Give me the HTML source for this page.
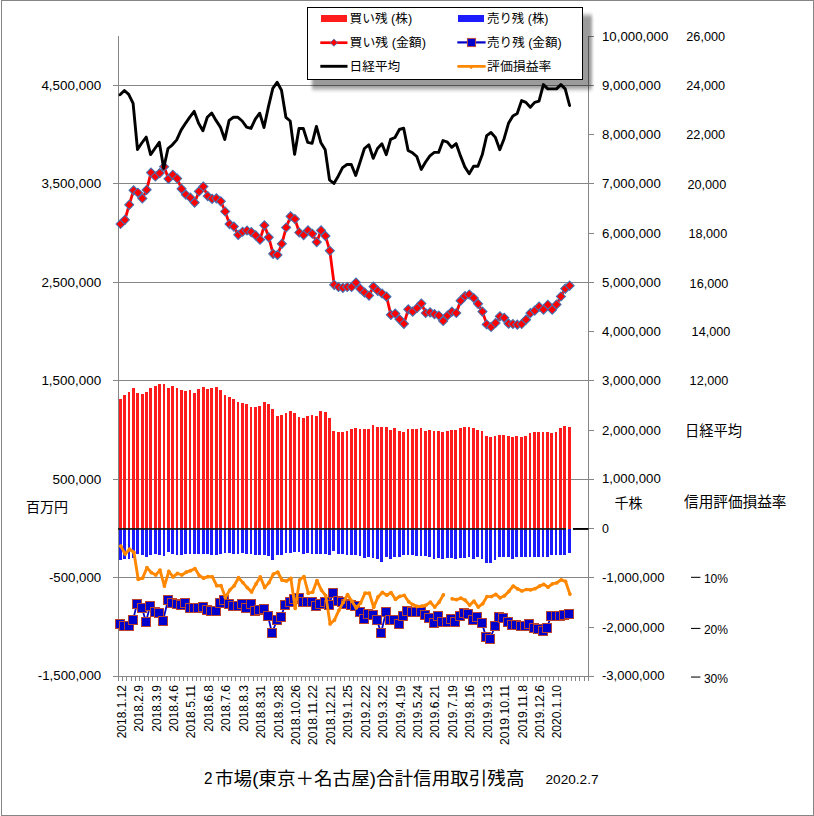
<!DOCTYPE html>
<html><head><meta charset="utf-8"><title>chart</title><style>html,body{margin:0;padding:0;background:#fff}body{width:814px;height:816px;overflow:hidden;position:relative;font-family:"Liberation Sans",sans-serif}</style></head><body>
<svg width="814" height="816" viewBox="0 0 814 816" style="display:block;position:absolute;left:0;top:0" font-family="'Liberation Sans',sans-serif">
<desc>2市場(東京＋名古屋)合計信用取引残高 2020.2.7 — 買い残(株) 売り残(株) 買い残(金額) 売り残(金額) 日経平均 評価損益率 百万円 千株 信用評価損益率</desc>
<defs><filter id="sh" x="-5%" y="-20%" width="110%" height="140%"><feGaussianBlur stdDeviation="1.6 1.9"/></filter></defs>
<rect width="814" height="816" fill="#fff"/>
<rect x="1.5" y="0.5" width="812" height="815" fill="none" stroke="#858585" stroke-width="1" shape-rendering="crispEdges"/>
<g stroke="#868686" stroke-width="1" shape-rendering="crispEdges">
<line x1="113" y1="85.5" x2="594" y2="85.5"/>
<line x1="113" y1="183.5" x2="594" y2="183.5"/>
<line x1="113" y1="282.5" x2="594" y2="282.5"/>
<line x1="113" y1="380.5" x2="594" y2="380.5"/>
<line x1="113" y1="479.5" x2="594" y2="479.5"/>
<line x1="113" y1="577.5" x2="594" y2="577.5"/>
<line x1="113" y1="676.5" x2="594" y2="676.5"/>
<line x1="118.5" y1="36" x2="118.5" y2="677"/>
<line x1="588.5" y1="36" x2="588.5" y2="677"/>
<line x1="588" y1="36.5" x2="594" y2="36.5"/>
<line x1="588" y1="85.5" x2="594" y2="85.5"/>
<line x1="588" y1="134.5" x2="594" y2="134.5"/>
<line x1="588" y1="183.5" x2="594" y2="183.5"/>
<line x1="588" y1="233.5" x2="594" y2="233.5"/>
<line x1="588" y1="282.5" x2="594" y2="282.5"/>
<line x1="588" y1="331.5" x2="594" y2="331.5"/>
<line x1="588" y1="380.5" x2="594" y2="380.5"/>
<line x1="588" y1="430.5" x2="594" y2="430.5"/>
<line x1="588" y1="479.5" x2="594" y2="479.5"/>
<line x1="588" y1="528.5" x2="594" y2="528.5"/>
<line x1="588" y1="577.5" x2="594" y2="577.5"/>
<line x1="588" y1="627.5" x2="594" y2="627.5"/>
<line x1="588" y1="676.5" x2="594" y2="676.5"/>
<line x1="118.5" y1="676" x2="118.5" y2="681"/>
<line x1="122.5" y1="676" x2="122.5" y2="681"/>
<line x1="126.5" y1="676" x2="126.5" y2="681"/>
<line x1="131.5" y1="676" x2="131.5" y2="681"/>
<line x1="135.5" y1="676" x2="135.5" y2="681"/>
<line x1="139.5" y1="676" x2="139.5" y2="681"/>
<line x1="144.5" y1="676" x2="144.5" y2="681"/>
<line x1="148.5" y1="676" x2="148.5" y2="681"/>
<line x1="152.5" y1="676" x2="152.5" y2="681"/>
<line x1="157.5" y1="676" x2="157.5" y2="681"/>
<line x1="161.5" y1="676" x2="161.5" y2="681"/>
<line x1="166.5" y1="676" x2="166.5" y2="681"/>
<line x1="170.5" y1="676" x2="170.5" y2="681"/>
<line x1="174.5" y1="676" x2="174.5" y2="681"/>
<line x1="179.5" y1="676" x2="179.5" y2="681"/>
<line x1="183.5" y1="676" x2="183.5" y2="681"/>
<line x1="187.5" y1="676" x2="187.5" y2="681"/>
<line x1="192.5" y1="676" x2="192.5" y2="681"/>
<line x1="196.5" y1="676" x2="196.5" y2="681"/>
<line x1="200.5" y1="676" x2="200.5" y2="681"/>
<line x1="205.5" y1="676" x2="205.5" y2="681"/>
<line x1="209.5" y1="676" x2="209.5" y2="681"/>
<line x1="213.5" y1="676" x2="213.5" y2="681"/>
<line x1="218.5" y1="676" x2="218.5" y2="681"/>
<line x1="222.5" y1="676" x2="222.5" y2="681"/>
<line x1="227.5" y1="676" x2="227.5" y2="681"/>
<line x1="231.5" y1="676" x2="231.5" y2="681"/>
<line x1="235.5" y1="676" x2="235.5" y2="681"/>
<line x1="240.5" y1="676" x2="240.5" y2="681"/>
<line x1="244.5" y1="676" x2="244.5" y2="681"/>
<line x1="248.5" y1="676" x2="248.5" y2="681"/>
<line x1="253.5" y1="676" x2="253.5" y2="681"/>
<line x1="257.5" y1="676" x2="257.5" y2="681"/>
<line x1="261.5" y1="676" x2="261.5" y2="681"/>
<line x1="266.5" y1="676" x2="266.5" y2="681"/>
<line x1="270.5" y1="676" x2="270.5" y2="681"/>
<line x1="274.5" y1="676" x2="274.5" y2="681"/>
<line x1="279.5" y1="676" x2="279.5" y2="681"/>
<line x1="283.5" y1="676" x2="283.5" y2="681"/>
<line x1="288.5" y1="676" x2="288.5" y2="681"/>
<line x1="292.5" y1="676" x2="292.5" y2="681"/>
<line x1="296.5" y1="676" x2="296.5" y2="681"/>
<line x1="301.5" y1="676" x2="301.5" y2="681"/>
<line x1="305.5" y1="676" x2="305.5" y2="681"/>
<line x1="309.5" y1="676" x2="309.5" y2="681"/>
<line x1="314.5" y1="676" x2="314.5" y2="681"/>
<line x1="318.5" y1="676" x2="318.5" y2="681"/>
<line x1="322.5" y1="676" x2="322.5" y2="681"/>
<line x1="327.5" y1="676" x2="327.5" y2="681"/>
<line x1="331.5" y1="676" x2="331.5" y2="681"/>
<line x1="335.5" y1="676" x2="335.5" y2="681"/>
<line x1="340.5" y1="676" x2="340.5" y2="681"/>
<line x1="344.5" y1="676" x2="344.5" y2="681"/>
<line x1="349.5" y1="676" x2="349.5" y2="681"/>
<line x1="353.5" y1="676" x2="353.5" y2="681"/>
<line x1="357.5" y1="676" x2="357.5" y2="681"/>
<line x1="362.5" y1="676" x2="362.5" y2="681"/>
<line x1="366.5" y1="676" x2="366.5" y2="681"/>
<line x1="370.5" y1="676" x2="370.5" y2="681"/>
<line x1="375.5" y1="676" x2="375.5" y2="681"/>
<line x1="379.5" y1="676" x2="379.5" y2="681"/>
<line x1="383.5" y1="676" x2="383.5" y2="681"/>
<line x1="388.5" y1="676" x2="388.5" y2="681"/>
<line x1="392.5" y1="676" x2="392.5" y2="681"/>
<line x1="396.5" y1="676" x2="396.5" y2="681"/>
<line x1="401.5" y1="676" x2="401.5" y2="681"/>
<line x1="405.5" y1="676" x2="405.5" y2="681"/>
<line x1="410.5" y1="676" x2="410.5" y2="681"/>
<line x1="414.5" y1="676" x2="414.5" y2="681"/>
<line x1="418.5" y1="676" x2="418.5" y2="681"/>
<line x1="423.5" y1="676" x2="423.5" y2="681"/>
<line x1="427.5" y1="676" x2="427.5" y2="681"/>
<line x1="431.5" y1="676" x2="431.5" y2="681"/>
<line x1="436.5" y1="676" x2="436.5" y2="681"/>
<line x1="440.5" y1="676" x2="440.5" y2="681"/>
<line x1="444.5" y1="676" x2="444.5" y2="681"/>
<line x1="449.5" y1="676" x2="449.5" y2="681"/>
<line x1="453.5" y1="676" x2="453.5" y2="681"/>
<line x1="457.5" y1="676" x2="457.5" y2="681"/>
<line x1="462.5" y1="676" x2="462.5" y2="681"/>
<line x1="466.5" y1="676" x2="466.5" y2="681"/>
<line x1="471.5" y1="676" x2="471.5" y2="681"/>
<line x1="475.5" y1="676" x2="475.5" y2="681"/>
<line x1="479.5" y1="676" x2="479.5" y2="681"/>
<line x1="484.5" y1="676" x2="484.5" y2="681"/>
<line x1="488.5" y1="676" x2="488.5" y2="681"/>
<line x1="492.5" y1="676" x2="492.5" y2="681"/>
<line x1="497.5" y1="676" x2="497.5" y2="681"/>
<line x1="501.5" y1="676" x2="501.5" y2="681"/>
<line x1="505.5" y1="676" x2="505.5" y2="681"/>
<line x1="510.5" y1="676" x2="510.5" y2="681"/>
<line x1="514.5" y1="676" x2="514.5" y2="681"/>
<line x1="518.5" y1="676" x2="518.5" y2="681"/>
<line x1="523.5" y1="676" x2="523.5" y2="681"/>
<line x1="527.5" y1="676" x2="527.5" y2="681"/>
<line x1="532.5" y1="676" x2="532.5" y2="681"/>
<line x1="536.5" y1="676" x2="536.5" y2="681"/>
<line x1="540.5" y1="676" x2="540.5" y2="681"/>
<line x1="545.5" y1="676" x2="545.5" y2="681"/>
<line x1="549.5" y1="676" x2="549.5" y2="681"/>
<line x1="553.5" y1="676" x2="553.5" y2="681"/>
<line x1="558.5" y1="676" x2="558.5" y2="681"/>
<line x1="562.5" y1="676" x2="562.5" y2="681"/>
<line x1="566.5" y1="676" x2="566.5" y2="681"/>
<line x1="571.5" y1="676" x2="571.5" y2="681"/>
<line x1="575.5" y1="676" x2="575.5" y2="681"/>
<line x1="579.5" y1="676" x2="579.5" y2="681"/>
<line x1="584.5" y1="676" x2="584.5" y2="681"/>
<line x1="588.5" y1="676" x2="588.5" y2="681"/>
</g>
<g shape-rendering="crispEdges">
<path fill="#ff1c1c" d="M119 399H122V528.5H119ZM123 395H126V528.5H123ZM128 392H130V528.5H128ZM132 388H135V528.5H132ZM136 393H139V528.5H136ZM141 394H144V528.5H141ZM145 392H148V528.5H145ZM149 388H152V528.5H149ZM154 386H157V528.5H154ZM158 384H161V528.5H158ZM163 384H165V528.5H163ZM167 388H170V528.5H167ZM171 386H174V528.5H171ZM176 388H178V528.5H176ZM180 390H183V528.5H180ZM184 391H187V528.5H184ZM189 390H191V528.5H189ZM193 393H196V528.5H193ZM197 389H200V528.5H197ZM202 387H205V528.5H202ZM206 389H209V528.5H206ZM210 388H213V528.5H210ZM215 387H218V528.5H215ZM219 390H222V528.5H219ZM224 395H226V528.5H224ZM228 397H231V528.5H228ZM232 399H235V528.5H232ZM237 402H239V528.5H237ZM241 403H244V528.5H241ZM245 404H248V528.5H245ZM250 407H252V528.5H250ZM254 407H257V528.5H254ZM258 406H261V528.5H258ZM263 402H266V528.5H263ZM267 404H270V528.5H267ZM271 409H274V528.5H271ZM276 416H279V528.5H276ZM280 415H283V528.5H280ZM285 413H287V528.5H285ZM289 411H292V528.5H289ZM293 413H296V528.5H293ZM298 417H300V528.5H298ZM302 418H305V528.5H302ZM306 416H309V528.5H306ZM311 415H313V528.5H311ZM315 416H318V528.5H315ZM319 411H322V528.5H319ZM324 412H327V528.5H324ZM328 418H331V528.5H328ZM332 431H335V528.5H332ZM337 432H340V528.5H337ZM341 432H344V528.5H341ZM346 431H348V528.5H346ZM350 429H353V528.5H350ZM354 428H357V528.5H354ZM359 429H361V528.5H359ZM363 429H366V528.5H363ZM367 429H370V528.5H367ZM372 425H374V528.5H372ZM376 427H379V528.5H376ZM380 427H383V528.5H380ZM385 427H388V528.5H385ZM389 430H392V528.5H389ZM393 428H396V528.5H393ZM398 431H401V528.5H398ZM402 432H405V528.5H402ZM407 429H409V528.5H407ZM411 429H414V528.5H411ZM415 429H418V528.5H415ZM420 428H422V528.5H420ZM424 431H427V528.5H424ZM428 430H431V528.5H428ZM433 431H435V528.5H433ZM437 431H440V528.5H437ZM441 432H444V528.5H441ZM446 431H449V528.5H446ZM450 430H453V528.5H450ZM454 430H457V528.5H454ZM459 428H462V528.5H459ZM463 427H466V528.5H463ZM468 427H470V528.5H468ZM472 428H475V528.5H472ZM476 430H479V528.5H476ZM481 431H483V528.5H481ZM485 436H488V528.5H485ZM489 437H492V528.5H489ZM494 436H496V528.5H494ZM498 435H501V528.5H498ZM502 435H505V528.5H502ZM507 436H510V528.5H507ZM511 437H514V528.5H511ZM515 436H518V528.5H515ZM520 437H523V528.5H520ZM524 436H527V528.5H524ZM529 433H531V528.5H529ZM533 432H536V528.5H533ZM537 432H540V528.5H537ZM542 432H544V528.5H542ZM546 432H549V528.5H546ZM550 433H553V528.5H550ZM555 432H557V528.5H555ZM559 428H562V528.5H559ZM563 426H566V528.5H563ZM568 427H571V528.5H568Z"/>
<path fill="#1c1cff" d="M119 529H122V560H119ZM123 529H126V559H123ZM128 529H130V559H128ZM132 529H135V558H132ZM136 529H139V554H136ZM141 529H144V555H141ZM145 529H148V557H145ZM149 529H152V555H149ZM154 529H157V554H154ZM158 529H161V555H158ZM163 529H165V556H163ZM167 529H170V552H167ZM171 529H174V554H171ZM176 529H178V555H176ZM180 529H183V555H180ZM184 529H187V554H184ZM189 529H191V554H189ZM193 529H196V554H193ZM197 529H200V554H197ZM202 529H205V554H202ZM206 529H209V554H206ZM210 529H213V555H210ZM215 529H218V555H215ZM219 529H222V554H219ZM224 529H226V553H224ZM228 529H231V553H228ZM232 529H235V554H232ZM237 529H239V554H237ZM241 529H244V553H241ZM245 529H248V554H245ZM250 529H252V554H250ZM254 529H257V555H254ZM258 529H261V555H258ZM263 529H266V555H263ZM267 529H270V556H267ZM271 529H274V560H271ZM276 529H279V555H276ZM280 529H283V555H280ZM285 529H287V553H285ZM289 529H292V553H289ZM293 529H296V552H293ZM298 529H300V552H298ZM302 529H305V554H302ZM306 529H309V553H306ZM311 529H313V554H311ZM315 529H318V554H315ZM319 529H322V554H319ZM324 529H327V554H324ZM328 529H331V555H328ZM332 529H335V551H332ZM337 529H340V554H337ZM341 529H344V554H341ZM346 529H348V555H346ZM350 529H353V555H350ZM354 529H357V555H354ZM359 529H361V556H359ZM363 529H366V558H363ZM367 529H370V557H367ZM372 529H374V558H372ZM376 529H379V559H376ZM380 529H383V562H380ZM385 529H388V557H385ZM389 529H392V559H389ZM393 529H396V557H393ZM398 529H401V557H398ZM402 529H405V555H402ZM407 529H409V555H407ZM411 529H414V555H411ZM415 529H418V556H415ZM420 529H422V556H420ZM424 529H427V556H424ZM428 529H431V557H428ZM433 529H435V559H433ZM437 529H440V558H437ZM441 529H444V559H441ZM446 529H449V558H446ZM450 529H453V558H450ZM454 529H457V559H454ZM459 529H462V558H459ZM463 529H466V558H463ZM468 529H470V557H468ZM472 529H475V559H472ZM476 529H479V557H476ZM481 529H483V559H481ZM485 529H488V563H485ZM489 529H492V563H489ZM494 529H496V560H494ZM498 529H501V557H498ZM502 529H505V557H502ZM507 529H510V557H507ZM511 529H514V559H511ZM515 529H518V557H515ZM520 529H523V557H520ZM524 529H527V557H524ZM529 529H531V557H529ZM533 529H536V557H533ZM537 529H540V557H537ZM542 529H544V557H542ZM546 529H549V557H546ZM550 529H553V555H550ZM555 529H557V555H555ZM559 529H562V555H559ZM563 529H566V555H563ZM568 529H571V553H568Z"/>
</g>
<rect x="118" y="528.1" width="448" height="1.7" fill="#141a14"/>
<rect x="573" y="528" width="15.5" height="1.9" fill="#000"/>
<polyline points="120.5,224.0 124.9,219.8 129.2,204.8 133.6,190.3 137.9,192.7 142.3,198.4 146.7,189.8 151.0,172.6 155.4,176.5 159.7,173.1 164.1,166.7 168.5,178.8 172.8,174.8 177.2,178.5 181.5,188.8 185.9,194.7 190.3,197.6 194.6,202.6 199.0,191.4 203.3,186.5 207.7,196.1 212.1,198.8 216.4,198.3 220.8,201.3 225.2,211.5 229.5,224.1 233.9,226.6 238.2,234.8 242.6,231.7 247.0,230.5 251.3,232.1 255.7,235.4 260.0,239.7 264.4,225.3 268.8,237.3 273.1,253.8 277.5,254.9 281.8,243.8 286.2,227.5 290.6,216.3 294.9,219.0 299.3,232.5 303.6,235.1 308.0,230.4 312.4,233.7 316.7,242.1 321.1,230.4 325.4,235.9 329.8,250.7 334.2,284.8 338.5,286.9 342.9,287.8 347.2,286.9 351.6,286.9 356.0,282.6 360.3,288.8 364.7,292.7 369.0,295.6 373.4,286.6 377.8,290.8 382.1,293.5 386.5,296.7 390.9,314.8 395.2,313.6 399.6,319.3 403.9,323.8 408.3,309.3 412.7,311.7 417.0,308.0 421.4,303.4 425.7,313.0 430.1,312.3 434.5,314.2 438.8,315.4 443.2,320.9 447.5,315.4 451.9,311.7 456.3,313.0 460.6,300.7 465.0,296.1 469.3,294.5 473.7,297.9 478.1,303.8 482.4,311.6 486.8,324.4 491.1,326.9 495.5,323.0 499.9,316.3 504.2,317.8 508.6,323.7 512.9,324.0 517.3,324.7 521.7,324.0 526.0,319.7 530.4,313.1 534.7,310.7 539.1,306.7 543.5,309.7 547.8,304.8 552.2,309.7 556.5,304.5 560.9,296.4 565.3,288.7 569.6,285.7" fill="none" stroke="#ff0000" stroke-width="2.8" stroke-linejoin="round"/>
<g fill="#ff0000" stroke="#4272b4" stroke-width="1.05" stroke-linejoin="miter"><path d="M116.0 224.0L120.5 219.4L125.0 224.0L120.5 228.6Z"/><path d="M120.3 219.8L124.9 215.2L129.4 219.8L124.9 224.4Z"/><path d="M124.7 204.8L129.2 200.2L133.8 204.8L129.2 209.4Z"/><path d="M129.0 190.3L133.6 185.8L138.1 190.3L133.6 194.9Z"/><path d="M133.4 192.7L137.9 188.2L142.5 192.7L137.9 197.3Z"/><path d="M137.8 198.4L142.3 193.8L146.9 198.4L142.3 203.0Z"/><path d="M142.1 189.8L146.7 185.2L151.2 189.8L146.7 194.4Z"/><path d="M146.5 172.6L151.0 168.1L155.6 172.6L151.0 177.2Z"/><path d="M150.8 176.5L155.4 171.9L159.9 176.5L155.4 181.1Z"/><path d="M155.2 173.1L159.7 168.6L164.3 173.1L159.7 177.7Z"/><path d="M159.6 166.7L164.1 162.2L168.7 166.7L164.1 171.3Z"/><path d="M163.9 178.8L168.5 174.2L173.0 178.8L168.5 183.4Z"/><path d="M168.3 174.8L172.8 170.2L177.4 174.8L172.8 179.4Z"/><path d="M172.6 178.5L177.2 173.9L181.7 178.5L177.2 183.1Z"/><path d="M177.0 188.8L181.5 184.2L186.1 188.8L181.5 193.4Z"/><path d="M181.4 194.7L185.9 190.2L190.5 194.7L185.9 199.3Z"/><path d="M185.7 197.6L190.3 193.1L194.8 197.6L190.3 202.2Z"/><path d="M190.1 202.6L194.6 198.1L199.2 202.6L194.6 207.2Z"/><path d="M194.4 191.4L199.0 186.8L203.5 191.4L199.0 196.0Z"/><path d="M198.8 186.5L203.3 181.9L207.9 186.5L203.3 191.1Z"/><path d="M203.2 196.1L207.7 191.6L212.3 196.1L207.7 200.7Z"/><path d="M207.5 198.8L212.1 194.2L216.6 198.8L212.1 203.4Z"/><path d="M211.9 198.3L216.4 193.8L221.0 198.3L216.4 202.9Z"/><path d="M216.2 201.3L220.8 196.8L225.3 201.3L220.8 205.9Z"/><path d="M220.6 211.5L225.2 206.9L229.7 211.5L225.2 216.1Z"/><path d="M225.0 224.1L229.5 219.6L234.1 224.1L229.5 228.7Z"/><path d="M229.3 226.6L233.9 222.1L238.4 226.6L233.9 231.2Z"/><path d="M233.7 234.8L238.2 230.2L242.8 234.8L238.2 239.4Z"/><path d="M238.0 231.7L242.6 227.2L247.1 231.7L242.6 236.3Z"/><path d="M242.4 230.5L247.0 225.9L251.5 230.5L247.0 235.1Z"/><path d="M246.8 232.1L251.3 227.6L255.9 232.1L251.3 236.7Z"/><path d="M251.1 235.4L255.7 230.8L260.2 235.4L255.7 240.0Z"/><path d="M255.5 239.7L260.0 235.2L264.6 239.7L260.0 244.3Z"/><path d="M259.8 225.3L264.4 220.8L268.9 225.3L264.4 229.9Z"/><path d="M264.2 237.3L268.8 232.8L273.3 237.3L268.8 241.9Z"/><path d="M268.6 253.8L273.1 249.2L277.7 253.8L273.1 258.4Z"/><path d="M272.9 254.9L277.5 250.3L282.0 254.9L277.5 259.4Z"/><path d="M277.3 243.8L281.8 239.2L286.4 243.8L281.8 248.4Z"/><path d="M281.6 227.5L286.2 222.9L290.7 227.5L286.2 232.1Z"/><path d="M286.0 216.3L290.6 211.8L295.1 216.3L290.6 220.9Z"/><path d="M290.4 219.0L294.9 214.4L299.5 219.0L294.9 223.6Z"/><path d="M294.7 232.5L299.3 227.9L303.8 232.5L299.3 237.1Z"/><path d="M299.1 235.1L303.6 230.6L308.2 235.1L303.6 239.7Z"/><path d="M303.5 230.4L308.0 225.8L312.6 230.4L308.0 235.0Z"/><path d="M307.8 233.7L312.4 229.2L316.9 233.7L312.4 238.3Z"/><path d="M312.2 242.1L316.7 237.6L321.3 242.1L316.7 246.7Z"/><path d="M316.5 230.4L321.1 225.8L325.6 230.4L321.1 235.0Z"/><path d="M320.9 235.9L325.4 231.3L330.0 235.9L325.4 240.5Z"/><path d="M325.3 250.7L329.8 246.2L334.4 250.7L329.8 255.3Z"/><path d="M329.6 284.8L334.2 280.2L338.7 284.8L334.2 289.4Z"/><path d="M334.0 286.9L338.5 282.4L343.1 286.9L338.5 291.5Z"/><path d="M338.3 287.8L342.9 283.2L347.4 287.8L342.9 292.4Z"/><path d="M342.7 286.9L347.2 282.4L351.8 286.9L347.2 291.5Z"/><path d="M347.1 286.9L351.6 282.4L356.2 286.9L351.6 291.5Z"/><path d="M351.4 282.6L356.0 278.1L360.5 282.6L356.0 287.2Z"/><path d="M355.8 288.8L360.3 284.2L364.9 288.8L360.3 293.4Z"/><path d="M360.1 292.7L364.7 288.1L369.2 292.7L364.7 297.2Z"/><path d="M364.5 295.6L369.0 291.1L373.6 295.6L369.0 300.2Z"/><path d="M368.9 286.6L373.4 282.1L378.0 286.6L373.4 291.2Z"/><path d="M373.2 290.8L377.8 286.2L382.3 290.8L377.8 295.4Z"/><path d="M377.6 293.5L382.1 288.9L386.7 293.5L382.1 298.1Z"/><path d="M381.9 296.7L386.5 292.1L391.0 296.7L386.5 301.2Z"/><path d="M386.3 314.8L390.9 310.2L395.4 314.8L390.9 319.4Z"/><path d="M390.7 313.6L395.2 309.1L399.8 313.6L395.2 318.2Z"/><path d="M395.0 319.3L399.6 314.8L404.1 319.3L399.6 323.9Z"/><path d="M399.4 323.8L403.9 319.2L408.5 323.8L403.9 328.4Z"/><path d="M403.7 309.3L408.3 304.8L412.8 309.3L408.3 313.9Z"/><path d="M408.1 311.7L412.7 307.1L417.2 311.7L412.7 316.2Z"/><path d="M412.5 308.0L417.0 303.4L421.6 308.0L417.0 312.6Z"/><path d="M416.8 303.4L421.4 298.9L425.9 303.4L421.4 308.0Z"/><path d="M421.2 313.0L425.7 308.4L430.3 313.0L425.7 317.6Z"/><path d="M425.5 312.3L430.1 307.8L434.6 312.3L430.1 316.9Z"/><path d="M429.9 314.2L434.5 309.6L439.0 314.2L434.5 318.8Z"/><path d="M434.3 315.4L438.8 310.9L443.4 315.4L438.8 320.0Z"/><path d="M438.6 320.9L443.2 316.4L447.7 320.9L443.2 325.5Z"/><path d="M443.0 315.4L447.5 310.9L452.1 315.4L447.5 320.0Z"/><path d="M447.3 311.7L451.9 307.1L456.4 311.7L451.9 316.2Z"/><path d="M451.7 313.0L456.3 308.4L460.8 313.0L456.3 317.6Z"/><path d="M456.1 300.7L460.6 296.1L465.2 300.7L460.6 305.2Z"/><path d="M460.4 296.1L465.0 291.6L469.5 296.1L465.0 300.7Z"/><path d="M464.8 294.5L469.3 289.9L473.9 294.5L469.3 299.1Z"/><path d="M469.2 297.9L473.7 293.4L478.3 297.9L473.7 302.5Z"/><path d="M473.5 303.8L478.1 299.2L482.6 303.8L478.1 308.4Z"/><path d="M477.9 311.6L482.4 307.1L487.0 311.6L482.4 316.2Z"/><path d="M482.2 324.4L486.8 319.9L491.3 324.4L486.8 329.0Z"/><path d="M486.6 326.9L491.1 322.4L495.7 326.9L491.1 331.5Z"/><path d="M491.0 323.0L495.5 318.4L500.1 323.0L495.5 327.6Z"/><path d="M495.3 316.3L499.9 311.8L504.4 316.3L499.9 320.9Z"/><path d="M499.7 317.8L504.2 313.2L508.8 317.8L504.2 322.4Z"/><path d="M504.0 323.7L508.6 319.1L513.1 323.7L508.6 328.2Z"/><path d="M508.4 324.0L512.9 319.4L517.5 324.0L512.9 328.6Z"/><path d="M512.8 324.7L517.3 320.1L521.9 324.7L517.3 329.2Z"/><path d="M517.1 324.0L521.7 319.4L526.2 324.0L521.7 328.6Z"/><path d="M521.5 319.7L526.0 315.1L530.6 319.7L526.0 324.2Z"/><path d="M525.8 313.1L530.4 308.6L534.9 313.1L530.4 317.7Z"/><path d="M530.2 310.7L534.7 306.1L539.3 310.7L534.7 315.2Z"/><path d="M534.6 306.7L539.1 302.1L543.7 306.7L539.1 311.2Z"/><path d="M538.9 309.7L543.5 305.1L548.0 309.7L543.5 314.2Z"/><path d="M543.3 304.8L547.8 300.2L552.4 304.8L547.8 309.4Z"/><path d="M547.6 309.7L552.2 305.1L556.7 309.7L552.2 314.2Z"/><path d="M552.0 304.5L556.5 299.9L561.1 304.5L556.5 309.1Z"/><path d="M556.4 296.4L560.9 291.9L565.5 296.4L560.9 301.0Z"/><path d="M560.7 288.7L565.3 284.1L569.8 288.7L565.3 293.2Z"/><path d="M565.1 285.7L569.6 281.1L574.2 285.7L569.6 290.2Z"/></g>
<polyline points="120,624 124,626 129,626 133,620 137,604 142,608 146,622 150,606 155,612 159,613 163,621 168,600 172,603 177,604 181,605 185,603 190,608 194,608 198,608 203,607 207,610 211,611 216,611 220,603 224,600 229,604 233,606 238,606 242,604 246,608 251,604 255,611 259,610 264,609 268,616 272,633 277,620 281,617 285,605 290,602 294,599 299,598 303,602 307,602 312,602 316,606 320,604 325,602 329,605 333,593 338,601 342,602 346,604 351,605 355,606 360,612 364,619 368,614 373,615 377,620 381,633 386,612 390,620 394,620 399,624 403,616 407,611 412,612 416,612 421,612 425,615 429,618 434,623 438,616 442,622 447,622 451,619 455,622 460,616 464,613 468,614 473,620 477,617 482,623 486,637 490,639 495,626 499,617 503,618 508,622 512,625 516,625 521,626 525,626 529,624 534,628 538,629 543,631 547,628 551,616 556,616 560,616 564,615 569,614" fill="none" stroke="#0000c8" stroke-width="1.8"/>
<rect x="115.5" y="619.5" width="9" height="9" fill="#0000cd" stroke="#b8442f" stroke-width="1"/>
<rect x="119.5" y="621.5" width="9" height="9" fill="#0000cd" stroke="#b8442f" stroke-width="1"/>
<rect x="124.5" y="621.5" width="9" height="9" fill="#0000cd" stroke="#b8442f" stroke-width="1"/>
<rect x="128.5" y="615.5" width="9" height="9" fill="#0000cd" stroke="#b8442f" stroke-width="1"/>
<rect x="132.5" y="599.5" width="9" height="9" fill="#0000cd" stroke="#b8442f" stroke-width="1"/>
<rect x="137.5" y="603.5" width="9" height="9" fill="#0000cd" stroke="#b8442f" stroke-width="1"/>
<rect x="141.5" y="617.5" width="9" height="9" fill="#0000cd" stroke="#b8442f" stroke-width="1"/>
<rect x="145.5" y="601.5" width="9" height="9" fill="#0000cd" stroke="#b8442f" stroke-width="1"/>
<rect x="150.5" y="607.5" width="9" height="9" fill="#0000cd" stroke="#b8442f" stroke-width="1"/>
<rect x="154.5" y="608.5" width="9" height="9" fill="#0000cd" stroke="#b8442f" stroke-width="1"/>
<rect x="158.5" y="616.5" width="9" height="9" fill="#0000cd" stroke="#b8442f" stroke-width="1"/>
<rect x="163.5" y="595.5" width="9" height="9" fill="#0000cd" stroke="#b8442f" stroke-width="1"/>
<rect x="167.5" y="598.5" width="9" height="9" fill="#0000cd" stroke="#b8442f" stroke-width="1"/>
<rect x="172.5" y="599.5" width="9" height="9" fill="#0000cd" stroke="#b8442f" stroke-width="1"/>
<rect x="176.5" y="600.5" width="9" height="9" fill="#0000cd" stroke="#b8442f" stroke-width="1"/>
<rect x="180.5" y="598.5" width="9" height="9" fill="#0000cd" stroke="#b8442f" stroke-width="1"/>
<rect x="185.5" y="603.5" width="9" height="9" fill="#0000cd" stroke="#b8442f" stroke-width="1"/>
<rect x="189.5" y="603.5" width="9" height="9" fill="#0000cd" stroke="#b8442f" stroke-width="1"/>
<rect x="193.5" y="603.5" width="9" height="9" fill="#0000cd" stroke="#b8442f" stroke-width="1"/>
<rect x="198.5" y="602.5" width="9" height="9" fill="#0000cd" stroke="#b8442f" stroke-width="1"/>
<rect x="202.5" y="605.5" width="9" height="9" fill="#0000cd" stroke="#b8442f" stroke-width="1"/>
<rect x="206.5" y="606.5" width="9" height="9" fill="#0000cd" stroke="#b8442f" stroke-width="1"/>
<rect x="211.5" y="606.5" width="9" height="9" fill="#0000cd" stroke="#b8442f" stroke-width="1"/>
<rect x="215.5" y="598.5" width="9" height="9" fill="#0000cd" stroke="#b8442f" stroke-width="1"/>
<rect x="219.5" y="595.5" width="9" height="9" fill="#0000cd" stroke="#b8442f" stroke-width="1"/>
<rect x="224.5" y="599.5" width="9" height="9" fill="#0000cd" stroke="#b8442f" stroke-width="1"/>
<rect x="228.5" y="601.5" width="9" height="9" fill="#0000cd" stroke="#b8442f" stroke-width="1"/>
<rect x="233.5" y="601.5" width="9" height="9" fill="#0000cd" stroke="#b8442f" stroke-width="1"/>
<rect x="237.5" y="599.5" width="9" height="9" fill="#0000cd" stroke="#b8442f" stroke-width="1"/>
<rect x="241.5" y="603.5" width="9" height="9" fill="#0000cd" stroke="#b8442f" stroke-width="1"/>
<rect x="246.5" y="599.5" width="9" height="9" fill="#0000cd" stroke="#b8442f" stroke-width="1"/>
<rect x="250.5" y="606.5" width="9" height="9" fill="#0000cd" stroke="#b8442f" stroke-width="1"/>
<rect x="254.5" y="605.5" width="9" height="9" fill="#0000cd" stroke="#b8442f" stroke-width="1"/>
<rect x="259.5" y="604.5" width="9" height="9" fill="#0000cd" stroke="#b8442f" stroke-width="1"/>
<rect x="263.5" y="611.5" width="9" height="9" fill="#0000cd" stroke="#b8442f" stroke-width="1"/>
<rect x="267.5" y="628.5" width="9" height="9" fill="#0000cd" stroke="#b8442f" stroke-width="1"/>
<rect x="272.5" y="615.5" width="9" height="9" fill="#0000cd" stroke="#b8442f" stroke-width="1"/>
<rect x="276.5" y="612.5" width="9" height="9" fill="#0000cd" stroke="#b8442f" stroke-width="1"/>
<rect x="280.5" y="600.5" width="9" height="9" fill="#0000cd" stroke="#b8442f" stroke-width="1"/>
<rect x="285.5" y="597.5" width="9" height="9" fill="#0000cd" stroke="#b8442f" stroke-width="1"/>
<rect x="289.5" y="594.5" width="9" height="9" fill="#0000cd" stroke="#b8442f" stroke-width="1"/>
<rect x="294.5" y="593.5" width="9" height="9" fill="#0000cd" stroke="#b8442f" stroke-width="1"/>
<rect x="298.5" y="597.5" width="9" height="9" fill="#0000cd" stroke="#b8442f" stroke-width="1"/>
<rect x="302.5" y="597.5" width="9" height="9" fill="#0000cd" stroke="#b8442f" stroke-width="1"/>
<rect x="307.5" y="597.5" width="9" height="9" fill="#0000cd" stroke="#b8442f" stroke-width="1"/>
<rect x="311.5" y="601.5" width="9" height="9" fill="#0000cd" stroke="#b8442f" stroke-width="1"/>
<rect x="315.5" y="599.5" width="9" height="9" fill="#0000cd" stroke="#b8442f" stroke-width="1"/>
<rect x="320.5" y="597.5" width="9" height="9" fill="#0000cd" stroke="#b8442f" stroke-width="1"/>
<rect x="324.5" y="600.5" width="9" height="9" fill="#0000cd" stroke="#b8442f" stroke-width="1"/>
<rect x="328.5" y="588.5" width="9" height="9" fill="#0000cd" stroke="#b8442f" stroke-width="1"/>
<rect x="333.5" y="596.5" width="9" height="9" fill="#0000cd" stroke="#b8442f" stroke-width="1"/>
<rect x="337.5" y="597.5" width="9" height="9" fill="#0000cd" stroke="#b8442f" stroke-width="1"/>
<rect x="341.5" y="599.5" width="9" height="9" fill="#0000cd" stroke="#b8442f" stroke-width="1"/>
<rect x="346.5" y="600.5" width="9" height="9" fill="#0000cd" stroke="#b8442f" stroke-width="1"/>
<rect x="350.5" y="601.5" width="9" height="9" fill="#0000cd" stroke="#b8442f" stroke-width="1"/>
<rect x="355.5" y="607.5" width="9" height="9" fill="#0000cd" stroke="#b8442f" stroke-width="1"/>
<rect x="359.5" y="614.5" width="9" height="9" fill="#0000cd" stroke="#b8442f" stroke-width="1"/>
<rect x="363.5" y="609.5" width="9" height="9" fill="#0000cd" stroke="#b8442f" stroke-width="1"/>
<rect x="368.5" y="610.5" width="9" height="9" fill="#0000cd" stroke="#b8442f" stroke-width="1"/>
<rect x="372.5" y="615.5" width="9" height="9" fill="#0000cd" stroke="#b8442f" stroke-width="1"/>
<rect x="376.5" y="628.5" width="9" height="9" fill="#0000cd" stroke="#b8442f" stroke-width="1"/>
<rect x="381.5" y="607.5" width="9" height="9" fill="#0000cd" stroke="#b8442f" stroke-width="1"/>
<rect x="385.5" y="615.5" width="9" height="9" fill="#0000cd" stroke="#b8442f" stroke-width="1"/>
<rect x="389.5" y="615.5" width="9" height="9" fill="#0000cd" stroke="#b8442f" stroke-width="1"/>
<rect x="394.5" y="619.5" width="9" height="9" fill="#0000cd" stroke="#b8442f" stroke-width="1"/>
<rect x="398.5" y="611.5" width="9" height="9" fill="#0000cd" stroke="#b8442f" stroke-width="1"/>
<rect x="402.5" y="606.5" width="9" height="9" fill="#0000cd" stroke="#b8442f" stroke-width="1"/>
<rect x="407.5" y="607.5" width="9" height="9" fill="#0000cd" stroke="#b8442f" stroke-width="1"/>
<rect x="411.5" y="607.5" width="9" height="9" fill="#0000cd" stroke="#b8442f" stroke-width="1"/>
<rect x="416.5" y="607.5" width="9" height="9" fill="#0000cd" stroke="#b8442f" stroke-width="1"/>
<rect x="420.5" y="610.5" width="9" height="9" fill="#0000cd" stroke="#b8442f" stroke-width="1"/>
<rect x="424.5" y="613.5" width="9" height="9" fill="#0000cd" stroke="#b8442f" stroke-width="1"/>
<rect x="429.5" y="618.5" width="9" height="9" fill="#0000cd" stroke="#b8442f" stroke-width="1"/>
<rect x="433.5" y="611.5" width="9" height="9" fill="#0000cd" stroke="#b8442f" stroke-width="1"/>
<rect x="437.5" y="617.5" width="9" height="9" fill="#0000cd" stroke="#b8442f" stroke-width="1"/>
<rect x="442.5" y="617.5" width="9" height="9" fill="#0000cd" stroke="#b8442f" stroke-width="1"/>
<rect x="446.5" y="614.5" width="9" height="9" fill="#0000cd" stroke="#b8442f" stroke-width="1"/>
<rect x="450.5" y="617.5" width="9" height="9" fill="#0000cd" stroke="#b8442f" stroke-width="1"/>
<rect x="455.5" y="611.5" width="9" height="9" fill="#0000cd" stroke="#b8442f" stroke-width="1"/>
<rect x="459.5" y="608.5" width="9" height="9" fill="#0000cd" stroke="#b8442f" stroke-width="1"/>
<rect x="463.5" y="609.5" width="9" height="9" fill="#0000cd" stroke="#b8442f" stroke-width="1"/>
<rect x="468.5" y="615.5" width="9" height="9" fill="#0000cd" stroke="#b8442f" stroke-width="1"/>
<rect x="472.5" y="612.5" width="9" height="9" fill="#0000cd" stroke="#b8442f" stroke-width="1"/>
<rect x="477.5" y="618.5" width="9" height="9" fill="#0000cd" stroke="#b8442f" stroke-width="1"/>
<rect x="481.5" y="632.5" width="9" height="9" fill="#0000cd" stroke="#b8442f" stroke-width="1"/>
<rect x="485.5" y="634.5" width="9" height="9" fill="#0000cd" stroke="#b8442f" stroke-width="1"/>
<rect x="490.5" y="621.5" width="9" height="9" fill="#0000cd" stroke="#b8442f" stroke-width="1"/>
<rect x="494.5" y="612.5" width="9" height="9" fill="#0000cd" stroke="#b8442f" stroke-width="1"/>
<rect x="498.5" y="613.5" width="9" height="9" fill="#0000cd" stroke="#b8442f" stroke-width="1"/>
<rect x="503.5" y="617.5" width="9" height="9" fill="#0000cd" stroke="#b8442f" stroke-width="1"/>
<rect x="507.5" y="620.5" width="9" height="9" fill="#0000cd" stroke="#b8442f" stroke-width="1"/>
<rect x="511.5" y="620.5" width="9" height="9" fill="#0000cd" stroke="#b8442f" stroke-width="1"/>
<rect x="516.5" y="621.5" width="9" height="9" fill="#0000cd" stroke="#b8442f" stroke-width="1"/>
<rect x="520.5" y="621.5" width="9" height="9" fill="#0000cd" stroke="#b8442f" stroke-width="1"/>
<rect x="524.5" y="619.5" width="9" height="9" fill="#0000cd" stroke="#b8442f" stroke-width="1"/>
<rect x="529.5" y="623.5" width="9" height="9" fill="#0000cd" stroke="#b8442f" stroke-width="1"/>
<rect x="533.5" y="624.5" width="9" height="9" fill="#0000cd" stroke="#b8442f" stroke-width="1"/>
<rect x="538.5" y="626.5" width="9" height="9" fill="#0000cd" stroke="#b8442f" stroke-width="1"/>
<rect x="542.5" y="623.5" width="9" height="9" fill="#0000cd" stroke="#b8442f" stroke-width="1"/>
<rect x="546.5" y="611.5" width="9" height="9" fill="#0000cd" stroke="#b8442f" stroke-width="1"/>
<rect x="551.5" y="611.5" width="9" height="9" fill="#0000cd" stroke="#b8442f" stroke-width="1"/>
<rect x="555.5" y="611.5" width="9" height="9" fill="#0000cd" stroke="#b8442f" stroke-width="1"/>
<rect x="559.5" y="610.5" width="9" height="9" fill="#0000cd" stroke="#b8442f" stroke-width="1"/>
<rect x="564.5" y="609.5" width="9" height="9" fill="#0000cd" stroke="#b8442f" stroke-width="1"/>
<polyline points="120.0,94.7 124.4,90.5 128.7,94.4 133.1,103.3 137.5,149.5 141.8,143.0 146.2,137.1 150.6,154.6 154.9,148.5 159.3,142.3 163.7,168.3 168.0,148.5 172.4,144.8 176.7,139.9 181.1,130.1 185.5,123.3 189.8,117.2 194.2,111.4 198.6,123.3 202.9,130.7 207.3,117.2 211.7,113.0 216.0,120.4 220.4,127.1 224.8,139.4 229.1,120.4 233.5,117.3 237.9,117.3 242.2,121.0 246.6,127.1 251.0,128.4 255.3,119.1 259.7,113.2 264.0,127.5 268.4,106.9 272.8,88.4 277.1,82.3 281.5,90.3 285.9,117.3 290.2,121.0 294.6,154.4 299.0,128.5 303.3,128.5 307.7,142.4 312.1,143.4 316.4,126.4 320.8,142.4 325.2,149.7 329.5,179.8 333.9,183.5 338.2,176.2 342.6,167.6 347.0,164.5 351.3,164.5 355.7,175.5 360.1,162.0 364.4,148.5 368.8,144.8 373.2,158.3 377.5,148.5 381.9,143.8 386.3,154.7 390.6,139.4 395.0,137.5 399.4,129.5 403.7,128.2 408.1,150.4 412.5,152.8 416.8,156.5 421.2,169.4 425.6,162.0 429.9,155.9 434.3,152.4 438.6,152.4 443.0,140.5 447.4,142.1 451.7,147.3 456.1,143.6 460.5,155.9 464.8,166.9 469.2,173.7 473.6,166.3 477.9,166.3 482.3,154.6 486.7,135.6 491.0,132.5 495.4,137.4 499.8,149.7 504.1,138.7 508.5,123.3 512.9,115.9 517.2,113.5 521.6,100.6 525.9,102.4 530.3,107.3 534.7,102.4 539.0,101.2 543.4,84.6 547.8,88.9 552.1,88.9 556.5,88.9 560.9,84.6 565.2,88.9 569.6,105.5" fill="none" stroke="#000" stroke-width="2.9" stroke-linejoin="round" stroke-linecap="round"/>
<polyline points="120.8,546.1 125.2,554.1 129.5,549.2 133.9,552.3 138.2,579.3 142.6,578.1 147.0,567.6 151.3,572.6 155.7,575.0 160.0,570.1 164.4,586.1 168.8,571.3 173.1,576.9 177.5,573.4 181.8,575.0 186.2,572.2 190.6,570.7 194.9,568.5 199.3,575.6 203.6,578.2 208.0,576.6 212.4,576.8 216.7,585.7 221.1,585.7 225.4,597.4 229.8,590.0 234.2,585.7 238.5,577.7 242.9,582.6 247.2,587.6 251.6,591.9 256.0,583.9 260.3,576.9 264.7,587.6 269.0,582.6 273.4,574.0 277.8,572.2 282.1,580.2 286.5,581.0 290.8,578.3 295.2,608.4 299.6,580.0 303.9,576.5 308.3,593.2 312.6,592.2 317.0,580.6 321.4,590.1 325.7,595.6 330.1,623.9 334.4,620.2 338.8,610.4 343.2,602.4 347.5,594.6 351.9,601.2 356.2,607.9 360.6,603.0 365.0,593.2 369.3,593.2 373.7,607.3 378.0,596.9 382.4,592.4 386.8,595.2 391.1,592.6 395.5,599.3 399.8,596.3 404.2,595.3 408.6,601.7 412.9,604.7 417.3,606.4 421.6,606.1 426.0,605.1 430.4,602.2 434.7,607.1 439.1,602.2 443.4,594.8" fill="none" stroke="#ff8800" stroke-width="2.9" stroke-linejoin="round" stroke-linecap="round"/>
<g fill="#ff8800"><circle cx="120.8" cy="546.1" r="1.85"/><circle cx="125.2" cy="554.1" r="1.85"/><circle cx="129.5" cy="549.2" r="1.85"/><circle cx="133.9" cy="552.3" r="1.85"/><circle cx="138.2" cy="579.3" r="1.85"/><circle cx="142.6" cy="578.1" r="1.85"/><circle cx="147.0" cy="567.6" r="1.85"/><circle cx="151.3" cy="572.6" r="1.85"/><circle cx="155.7" cy="575.0" r="1.85"/><circle cx="160.0" cy="570.1" r="1.85"/><circle cx="164.4" cy="586.1" r="1.85"/><circle cx="168.8" cy="571.3" r="1.85"/><circle cx="173.1" cy="576.9" r="1.85"/><circle cx="177.5" cy="573.4" r="1.85"/><circle cx="181.8" cy="575.0" r="1.85"/><circle cx="186.2" cy="572.2" r="1.85"/><circle cx="190.6" cy="570.7" r="1.85"/><circle cx="194.9" cy="568.5" r="1.85"/><circle cx="199.3" cy="575.6" r="1.85"/><circle cx="203.6" cy="578.2" r="1.85"/><circle cx="208.0" cy="576.6" r="1.85"/><circle cx="212.4" cy="576.8" r="1.85"/><circle cx="216.7" cy="585.7" r="1.85"/><circle cx="221.1" cy="585.7" r="1.85"/><circle cx="225.4" cy="597.4" r="1.85"/><circle cx="229.8" cy="590.0" r="1.85"/><circle cx="234.2" cy="585.7" r="1.85"/><circle cx="238.5" cy="577.7" r="1.85"/><circle cx="242.9" cy="582.6" r="1.85"/><circle cx="247.2" cy="587.6" r="1.85"/><circle cx="251.6" cy="591.9" r="1.85"/><circle cx="256.0" cy="583.9" r="1.85"/><circle cx="260.3" cy="576.9" r="1.85"/><circle cx="264.7" cy="587.6" r="1.85"/><circle cx="269.0" cy="582.6" r="1.85"/><circle cx="273.4" cy="574.0" r="1.85"/><circle cx="277.8" cy="572.2" r="1.85"/><circle cx="282.1" cy="580.2" r="1.85"/><circle cx="286.5" cy="581.0" r="1.85"/><circle cx="290.8" cy="578.3" r="1.85"/><circle cx="295.2" cy="608.4" r="1.85"/><circle cx="299.6" cy="580.0" r="1.85"/><circle cx="303.9" cy="576.5" r="1.85"/><circle cx="308.3" cy="593.2" r="1.85"/><circle cx="312.6" cy="592.2" r="1.85"/><circle cx="317.0" cy="580.6" r="1.85"/><circle cx="321.4" cy="590.1" r="1.85"/><circle cx="325.7" cy="595.6" r="1.85"/><circle cx="330.1" cy="623.9" r="1.85"/><circle cx="334.4" cy="620.2" r="1.85"/><circle cx="338.8" cy="610.4" r="1.85"/><circle cx="343.2" cy="602.4" r="1.85"/><circle cx="347.5" cy="594.6" r="1.85"/><circle cx="351.9" cy="601.2" r="1.85"/><circle cx="356.2" cy="607.9" r="1.85"/><circle cx="360.6" cy="603.0" r="1.85"/><circle cx="365.0" cy="593.2" r="1.85"/><circle cx="369.3" cy="593.2" r="1.85"/><circle cx="373.7" cy="607.3" r="1.85"/><circle cx="378.0" cy="596.9" r="1.85"/><circle cx="382.4" cy="592.4" r="1.85"/><circle cx="386.8" cy="595.2" r="1.85"/><circle cx="391.1" cy="592.6" r="1.85"/><circle cx="395.5" cy="599.3" r="1.85"/><circle cx="399.8" cy="596.3" r="1.85"/><circle cx="404.2" cy="595.3" r="1.85"/><circle cx="408.6" cy="601.7" r="1.85"/><circle cx="412.9" cy="604.7" r="1.85"/><circle cx="417.3" cy="606.4" r="1.85"/><circle cx="421.6" cy="606.1" r="1.85"/><circle cx="426.0" cy="605.1" r="1.85"/><circle cx="430.4" cy="602.2" r="1.85"/><circle cx="434.7" cy="607.1" r="1.85"/><circle cx="439.1" cy="602.2" r="1.85"/><circle cx="443.4" cy="594.8" r="1.85"/></g>
<polyline points="452.2,598.8 456.5,599.7 460.9,598.1 465.2,600.2 469.6,605.1 474.0,601.2 478.3,607.1 482.7,603.7 487.0,596.6 491.4,596.6 495.8,594.3 500.1,597.8 504.5,595.8 508.8,591.4 513.2,586.0 517.6,588.9 521.9,591.0 526.3,589.5 530.6,589.8 535.0,588.7 539.4,586.2 543.7,584.3 548.1,587.2 552.4,583.8 556.8,582.8 561.2,579.8 565.5,581.3 569.9,594.1" fill="none" stroke="#ff8800" stroke-width="2.9" stroke-linejoin="round" stroke-linecap="round"/>
<g fill="#ff8800"><circle cx="452.2" cy="598.8" r="1.85"/><circle cx="456.5" cy="599.7" r="1.85"/><circle cx="460.9" cy="598.1" r="1.85"/><circle cx="465.2" cy="600.2" r="1.85"/><circle cx="469.6" cy="605.1" r="1.85"/><circle cx="474.0" cy="601.2" r="1.85"/><circle cx="478.3" cy="607.1" r="1.85"/><circle cx="482.7" cy="603.7" r="1.85"/><circle cx="487.0" cy="596.6" r="1.85"/><circle cx="491.4" cy="596.6" r="1.85"/><circle cx="495.8" cy="594.3" r="1.85"/><circle cx="500.1" cy="597.8" r="1.85"/><circle cx="504.5" cy="595.8" r="1.85"/><circle cx="508.8" cy="591.4" r="1.85"/><circle cx="513.2" cy="586.0" r="1.85"/><circle cx="517.6" cy="588.9" r="1.85"/><circle cx="521.9" cy="591.0" r="1.85"/><circle cx="526.3" cy="589.5" r="1.85"/><circle cx="530.6" cy="589.8" r="1.85"/><circle cx="535.0" cy="588.7" r="1.85"/><circle cx="539.4" cy="586.2" r="1.85"/><circle cx="543.7" cy="584.3" r="1.85"/><circle cx="548.1" cy="587.2" r="1.85"/><circle cx="552.4" cy="583.8" r="1.85"/><circle cx="556.8" cy="582.8" r="1.85"/><circle cx="561.2" cy="579.8" r="1.85"/><circle cx="565.5" cy="581.3" r="1.85"/><circle cx="569.9" cy="594.1" r="1.85"/></g>
<rect x="312" y="14.9" width="280" height="74.4" fill="#000" opacity="0.39" filter="url(#sh)"/>
<rect x="307.5" y="7.5" width="275" height="72" fill="#fff" stroke="#000" stroke-width="1" shape-rendering="crispEdges"/>
<rect x="321" y="15" width="26" height="7" fill="#ff1c1c" shape-rendering="crispEdges"/>
<rect x="458" y="15" width="26" height="7" fill="#1c1cff" shape-rendering="crispEdges"/>
<line x1="320.3" y1="42.7" x2="347.5" y2="42.7" stroke="#ff0000" stroke-width="2.7"/>
<path d="M330.29999999999995 42.7L333.9 39.1L337.5 42.7L333.9 46.300000000000004Z" fill="#ff0000" stroke="#4a7ebb" stroke-width="0.9"/>
<line x1="457.3" y1="42.4" x2="485.6" y2="42.4" stroke="#0000c8" stroke-width="2.2"/>
<rect x="467.4" y="38.4" width="8.2" height="8.2" fill="#0000cd" stroke="#bc4a3c" stroke-width="0.95"/>
<line x1="320.3" y1="66.3" x2="347.5" y2="66.3" stroke="#000" stroke-width="2.9"/>
<line x1="458.5" y1="66.4" x2="484.5" y2="66.4" stroke="#ff8800" stroke-width="2.8" stroke-linecap="round"/>
<circle cx="471.2" cy="67.6" r="1.3" fill="#ff8800"/>
<g fill="#000" font-family="'Liberation Sans','Noto Sans CJK JP',sans-serif">
<text x="349.6" y="23" font-size="12.5" textLength="62.6" lengthAdjust="spacingAndGlyphs">買い残 (株)</text>
<text x="349.6" y="47" font-size="12.5" textLength="76.4" lengthAdjust="spacingAndGlyphs">買い残 (金額)</text>
<text x="349.6" y="71" font-size="12.5" textLength="50.6" lengthAdjust="spacingAndGlyphs">日経平均</text>
<text x="487" y="23" font-size="12.5" textLength="61.5" lengthAdjust="spacingAndGlyphs">売り残 (株)</text>
<text x="487" y="47" font-size="12.5" textLength="74.7" lengthAdjust="spacingAndGlyphs">売り残 (金額)</text>
<text x="487" y="71" font-size="12.5" textLength="64.4" lengthAdjust="spacingAndGlyphs">評価損益率</text>
<text x="26" y="512" font-size="14" textLength="42" lengthAdjust="spacingAndGlyphs">百万円</text>
<text x="685" y="436" font-size="14.3" textLength="57" lengthAdjust="spacingAndGlyphs">日経平均</text>
<text x="614.5" y="508" font-size="14" textLength="28" lengthAdjust="spacingAndGlyphs">千株</text>
<text x="684" y="506.5" font-size="14.6" textLength="102.5" lengthAdjust="spacingAndGlyphs">信用評価損益率</text>
<text x="204" y="783.7" font-size="17" textLength="8.5" lengthAdjust="spacingAndGlyphs">2</text>
<text x="215" y="784.5" font-size="18" textLength="309.5" lengthAdjust="spacingAndGlyphs">市場(東京＋名古屋)合計信用取引残高</text>
<text x="545.5" y="783.5" font-size="12.5" textLength="53" lengthAdjust="spacingAndGlyphs">2020.2.7</text>
</g>
<text x="101.2" y="89.7" font-size="12.5" text-anchor="end" textLength="59.8" lengthAdjust="spacingAndGlyphs">4,500,000</text>
<text x="101.2" y="188.2" font-size="12.5" text-anchor="end" textLength="59.8" lengthAdjust="spacingAndGlyphs">3,500,000</text>
<text x="101.2" y="286.7" font-size="12.5" text-anchor="end" textLength="59.8" lengthAdjust="spacingAndGlyphs">2,500,000</text>
<text x="101.2" y="385.1" font-size="12.5" text-anchor="end" textLength="59.8" lengthAdjust="spacingAndGlyphs">1,500,000</text>
<text x="101.2" y="483.6" font-size="12.5" text-anchor="end" textLength="48.7" lengthAdjust="spacingAndGlyphs">500,000</text>
<text x="101.2" y="581.9" font-size="12.5" text-anchor="end" textLength="52.3" lengthAdjust="spacingAndGlyphs">-500,000</text>
<text x="101.2" y="680.4" font-size="12.5" text-anchor="end" textLength="63.4" lengthAdjust="spacingAndGlyphs">-1,500,000</text>
<text x="602.0" y="40.7" font-size="12.5" text-anchor="start" textLength="66.3" lengthAdjust="spacingAndGlyphs">10,000,000</text>
<text x="602.0" y="89.7" font-size="12.5" text-anchor="start" textLength="58.8" lengthAdjust="spacingAndGlyphs">9,000,000</text>
<text x="602.0" y="138.9" font-size="12.5" text-anchor="start" textLength="58.8" lengthAdjust="spacingAndGlyphs">8,000,000</text>
<text x="602.0" y="188.1" font-size="12.5" text-anchor="start" textLength="58.8" lengthAdjust="spacingAndGlyphs">7,000,000</text>
<text x="602.0" y="237.6" font-size="12.5" text-anchor="start" textLength="58.8" lengthAdjust="spacingAndGlyphs">6,000,000</text>
<text x="602.0" y="286.8" font-size="12.5" text-anchor="start" textLength="58.8" lengthAdjust="spacingAndGlyphs">5,000,000</text>
<text x="602.0" y="335.9" font-size="12.5" text-anchor="start" textLength="58.8" lengthAdjust="spacingAndGlyphs">4,000,000</text>
<text x="602.0" y="385.0" font-size="12.5" text-anchor="start" textLength="58.8" lengthAdjust="spacingAndGlyphs">3,000,000</text>
<text x="602.0" y="434.6" font-size="12.5" text-anchor="start" textLength="58.8" lengthAdjust="spacingAndGlyphs">2,000,000</text>
<text x="602.0" y="483.4" font-size="12.5" text-anchor="start" textLength="58.8" lengthAdjust="spacingAndGlyphs">1,000,000</text>
<text x="602.0" y="532.8" font-size="12.5" text-anchor="start" textLength="6.9" lengthAdjust="spacingAndGlyphs">0</text>
<text x="602.0" y="581.9" font-size="12.5" text-anchor="start" textLength="62.4" lengthAdjust="spacingAndGlyphs">-1,000,000</text>
<text x="602.0" y="631.8" font-size="12.5" text-anchor="start" textLength="62.4" lengthAdjust="spacingAndGlyphs">-2,000,000</text>
<text x="602.0" y="680.4" font-size="12.5" text-anchor="start" textLength="62.4" lengthAdjust="spacingAndGlyphs">-3,000,000</text>
<text x="686.3000000000001" y="40.7" font-size="12.5" text-anchor="start" textLength="38.8" lengthAdjust="spacingAndGlyphs">26,000</text>
<text x="686.3000000000001" y="89.7" font-size="12.5" text-anchor="start" textLength="38.8" lengthAdjust="spacingAndGlyphs">24,000</text>
<text x="686.3000000000001" y="138.9" font-size="12.5" text-anchor="start" textLength="38.8" lengthAdjust="spacingAndGlyphs">22,000</text>
<text x="687.4" y="188.6" font-size="12.5" text-anchor="start" textLength="38.8" lengthAdjust="spacingAndGlyphs">20,000</text>
<text x="688.4" y="237.8" font-size="12.5" text-anchor="start" textLength="38.8" lengthAdjust="spacingAndGlyphs">18,000</text>
<text x="689.6" y="288.0" font-size="12.5" text-anchor="start" textLength="38.8" lengthAdjust="spacingAndGlyphs">16,000</text>
<text x="691.6" y="336.0" font-size="12.5" text-anchor="start" textLength="38.8" lengthAdjust="spacingAndGlyphs">14,000</text>
<text x="689.6" y="385.0" font-size="12.5" text-anchor="start" textLength="38.8" lengthAdjust="spacingAndGlyphs">12,000</text>
<rect x="691" y="576.8" width="9.4" height="1.1" fill="#111"/>
<text x="703.9" y="582.9" font-size="13.2" text-anchor="start" textLength="24.2" lengthAdjust="spacingAndGlyphs">10%</text>
<rect x="691" y="627.9" width="9.4" height="1.1" fill="#111"/>
<text x="703.9" y="634.0" font-size="13.2" text-anchor="start" textLength="24.2" lengthAdjust="spacingAndGlyphs">20%</text>
<rect x="691" y="676.5" width="9.4" height="1.1" fill="#111"/>
<text x="703.9" y="682.6" font-size="13.2" text-anchor="start" textLength="24.2" lengthAdjust="spacingAndGlyphs">30%</text>
<text transform="translate(125.7,685.0) rotate(-90)" x="0" y="0" font-size="12.3" text-anchor="end" textLength="53.3" lengthAdjust="spacingAndGlyphs">2018.1.12</text>
<text transform="translate(143.1,685.0) rotate(-90)" x="0" y="0" font-size="12.3" text-anchor="end" textLength="46.7" lengthAdjust="spacingAndGlyphs">2018.2.9</text>
<text transform="translate(160.6,685.0) rotate(-90)" x="0" y="0" font-size="12.3" text-anchor="end" textLength="46.7" lengthAdjust="spacingAndGlyphs">2018.3.9</text>
<text transform="translate(178.0,685.0) rotate(-90)" x="0" y="0" font-size="12.3" text-anchor="end" textLength="46.7" lengthAdjust="spacingAndGlyphs">2018.4.6</text>
<text transform="translate(195.4,685.0) rotate(-90)" x="0" y="0" font-size="12.3" text-anchor="end" textLength="53.3" lengthAdjust="spacingAndGlyphs">2018.5.11</text>
<text transform="translate(212.8,685.0) rotate(-90)" x="0" y="0" font-size="12.3" text-anchor="end" textLength="46.7" lengthAdjust="spacingAndGlyphs">2018.6.8</text>
<text transform="translate(230.3,685.0) rotate(-90)" x="0" y="0" font-size="12.3" text-anchor="end" textLength="46.7" lengthAdjust="spacingAndGlyphs">2018.7.6</text>
<text transform="translate(247.7,685.0) rotate(-90)" x="0" y="0" font-size="12.3" text-anchor="end" textLength="46.7" lengthAdjust="spacingAndGlyphs">2018.8.3</text>
<text transform="translate(265.1,685.0) rotate(-90)" x="0" y="0" font-size="12.3" text-anchor="end" textLength="53.3" lengthAdjust="spacingAndGlyphs">2018.8.31</text>
<text transform="translate(282.6,685.0) rotate(-90)" x="0" y="0" font-size="12.3" text-anchor="end" textLength="53.3" lengthAdjust="spacingAndGlyphs">2018.9.28</text>
<text transform="translate(300.0,685.0) rotate(-90)" x="0" y="0" font-size="12.3" text-anchor="end" textLength="60.0" lengthAdjust="spacingAndGlyphs">2018.10.26</text>
<text transform="translate(317.4,685.0) rotate(-90)" x="0" y="0" font-size="12.3" text-anchor="end" textLength="60.0" lengthAdjust="spacingAndGlyphs">2018.11.22</text>
<text transform="translate(334.8,685.0) rotate(-90)" x="0" y="0" font-size="12.3" text-anchor="end" textLength="60.0" lengthAdjust="spacingAndGlyphs">2018.12.21</text>
<text transform="translate(352.3,685.0) rotate(-90)" x="0" y="0" font-size="12.3" text-anchor="end" textLength="53.3" lengthAdjust="spacingAndGlyphs">2019.1.25</text>
<text transform="translate(369.7,685.0) rotate(-90)" x="0" y="0" font-size="12.3" text-anchor="end" textLength="53.3" lengthAdjust="spacingAndGlyphs">2019.2.22</text>
<text transform="translate(387.1,685.0) rotate(-90)" x="0" y="0" font-size="12.3" text-anchor="end" textLength="53.3" lengthAdjust="spacingAndGlyphs">2019.3.22</text>
<text transform="translate(404.6,685.0) rotate(-90)" x="0" y="0" font-size="12.3" text-anchor="end" textLength="53.3" lengthAdjust="spacingAndGlyphs">2019.4.19</text>
<text transform="translate(422.0,685.0) rotate(-90)" x="0" y="0" font-size="12.3" text-anchor="end" textLength="53.3" lengthAdjust="spacingAndGlyphs">2019.5.24</text>
<text transform="translate(439.4,685.0) rotate(-90)" x="0" y="0" font-size="12.3" text-anchor="end" textLength="53.3" lengthAdjust="spacingAndGlyphs">2019.6.21</text>
<text transform="translate(456.8,685.0) rotate(-90)" x="0" y="0" font-size="12.3" text-anchor="end" textLength="53.3" lengthAdjust="spacingAndGlyphs">2019.7.19</text>
<text transform="translate(474.3,685.0) rotate(-90)" x="0" y="0" font-size="12.3" text-anchor="end" textLength="53.3" lengthAdjust="spacingAndGlyphs">2019.8.16</text>
<text transform="translate(491.7,685.0) rotate(-90)" x="0" y="0" font-size="12.3" text-anchor="end" textLength="53.3" lengthAdjust="spacingAndGlyphs">2019.9.13</text>
<text transform="translate(509.1,685.0) rotate(-90)" x="0" y="0" font-size="12.3" text-anchor="end" textLength="60.0" lengthAdjust="spacingAndGlyphs">2019.10.11</text>
<text transform="translate(526.5,685.0) rotate(-90)" x="0" y="0" font-size="12.3" text-anchor="end" textLength="53.3" lengthAdjust="spacingAndGlyphs">2019.11.8</text>
<text transform="translate(544.0,685.0) rotate(-90)" x="0" y="0" font-size="12.3" text-anchor="end" textLength="53.3" lengthAdjust="spacingAndGlyphs">2019.12.6</text>
<text transform="translate(561.4,685.0) rotate(-90)" x="0" y="0" font-size="12.3" text-anchor="end" textLength="53.3" lengthAdjust="spacingAndGlyphs">2020.1.10</text>
</svg>
</body></html>
